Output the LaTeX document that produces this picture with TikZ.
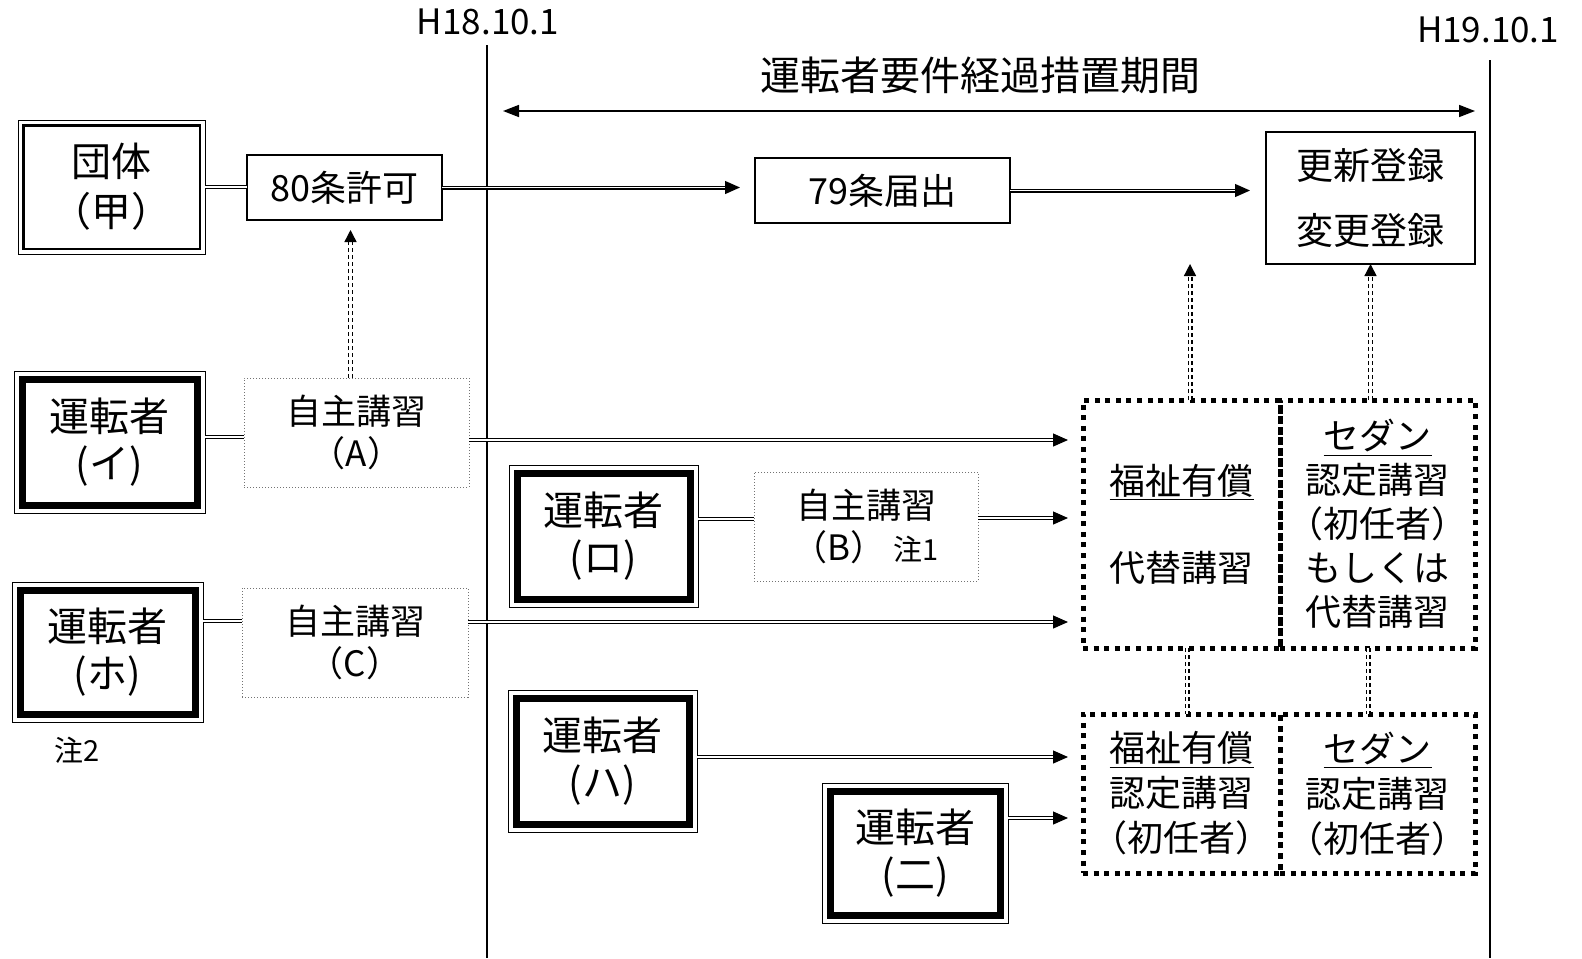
\documentclass[tikz,border=0pt]{standalone}
\usepackage{fontspec}
\setmainfont{Noto Sans CJK JP}
\usetikzlibrary{arrows.meta,calc}
\begin{document}
\begin{tikzpicture}[x=0.5pt,y=-0.5pt,
 base/.style={inner sep=0pt, outer sep=0pt, align=center, font=\fontsize{18}{22}\selectfont},
 plain/.style={base, draw, line width=0.6pt},
 self/.style={base, draw=black!55, densely dotted, line width=0.5pt, font=\fontsize{17.5}{21}\selectfont},
 drv/.style={base, draw, line width=0.5pt, font=\fontsize{20}{23.5}\selectfont,
   path picture={\draw[line width=3.5pt] ([shift={(4pt,-4pt)}]path picture bounding box.north west) rectangle ([shift={(-4pt,4pt)}]path picture bounding box.south east);}},
 org/.style={base, draw, line width=0.5pt, font=\fontsize{20}{25}\selectfont,
   path picture={\draw[line width=1.3pt] ([shift={(2.6pt,-2.6pt)}]path picture bounding box.north west) rectangle ([shift={(-2.6pt,2.6pt)}]path picture bounding box.south east);}},
 dbox/.style={base, draw, line width=2.5pt, dash pattern=on 2.5pt off 2.8pt},
 dl/.style={double, double distance=0.8pt, line width=0.6pt},
 arr/.style={dl, -{Triangle[length=7.5pt,width=6.5pt]}},
 ddot/.style={double, double distance=1.1pt, line width=0.7pt, dash pattern=on 2pt off 1.5pt},
 darr/.style={ddot, -{Triangle[length=6pt,width=6pt]}},
]
\useasboundingbox (0,0) rectangle (1582,958);

% time lines
\coordinate (v18t) at (487,45); \coordinate (v18b) at (487,958);
\coordinate (v19t) at (1490,60); \coordinate (v19b) at (1490,958);
\draw[line width=0.7pt] (v18t) -- (v18b);
\draw[line width=0.7pt] (v19t) -- (v19b);
\node[base, font=\fontsize{17.5}{21}\selectfont] (h18) at (488,22) {H18.10.1};
\node[base, font=\fontsize{17.5}{21}\selectfont, anchor=west] (h19) at (1417,30) {H19.10.1};
\node[base, font=\fontsize{20}{24}\selectfont] (title) at (980,75) {運転者要件経過措置期間};
\coordinate (pa) at (487,111); \coordinate (pb) at (1490,111);
\draw[line width=0.8pt, {Triangle[length=8pt,width=6pt]}-{Triangle[length=8pt,width=6pt]}, shorten <=8pt, shorten >=7.5pt] (pa) -- (pb);

% boxes
\node[org, minimum width=93.5pt, minimum height=67pt] (dan) at (111.5,187) {団体\\（甲）};
\node[plain, minimum width=97.5pt, minimum height=32.5pt] (j80) at (344.5,187.5) {80条許可};
\node[plain, minimum width=127.5pt, minimum height=32.5pt] (j79) at (882.5,190.5) {79条届出};
\node[plain, minimum width=104.5pt, minimum height=66pt, font=\fontsize{18.5}{32.5}\selectfont] (ko) at (1370.5,198) {更新登録\\変更登録};

\node[drv, minimum width=95.5pt, minimum height=71pt] (i) at (109.5,442) {運転者\\(イ)};
\node[drv, minimum width=95.5pt, minimum height=70pt] (ho) at (107.5,652) {運転者\\(ホ)};
\node[drv, minimum width=94.5pt, minimum height=71pt] (ro) at (603.5,536) {運転者\\(ロ)};
\node[drv, minimum width=94.5pt, minimum height=71pt] (ha) at (602.5,761) {運転者\\(ハ)};
\node[drv, minimum width=93pt, minimum height=70pt] (ni) at (915,853) {運転者\\(二)};
\node[base, font=\fontsize{14.5}{17}\selectfont] (n2) at (77,750) {注2};

\node[self, minimum width=112.5pt, minimum height=54.5pt] (A) at (356.5,432.5) {自主講習\\（A）};
\node[self, minimum width=113pt, minimum height=54.5pt] (C) at (355,642.5) {自主講習\\（C）};
\node[self, minimum width=112pt, minimum height=54.5pt] (B) at (866,526.5) {自主講習\\（B）\hspace{4pt}{\fontsize{14.5}{17}\selectfont 注1}};

\node[dbox, minimum width=98.5pt, minimum height=124pt] (fw1) at (1181.5,524) {\underline{福祉有償}\\[21.5pt]代替講習};
\node[dbox, minimum width=97.5pt, minimum height=124pt] (sd1) at (1377.5,524) {\underline{セダン}\\認定講習\\（初任者）\\もしくは\\代替講習};
\node[dbox, minimum width=98.5pt, minimum height=79.5pt, font=\fontsize{18}{22.5}\selectfont] (fw2) at (1181.5,793.5) {\underline{福祉有償}\\認定講習\\（初任者）};
\node[dbox, minimum width=97.5pt, minimum height=79.5pt, font=\fontsize{18}{22.5}\selectfont] (sd2) at (1377.5,793.5) {\underline{セダン}\\認定講習\\（初任者）};

% connectors
\draw[dl] (dan.east) -- (dan.east -| j80.west);
\draw[arr, shorten >=7.5pt] (j80.east) -- (j80.east -| j79.west);
\draw[arr, shorten >=8pt] (j79.east) -- (j79.east -| ko.west);
\draw[dl] ([yshift=2.5pt]i.east) -- ([yshift=2.5pt]i.east -| A.west);
\draw[arr, shorten >=7.5pt] ([yshift=-3.75pt]A.east) -- ([yshift=-3.75pt]A.east -| fw1.west);
\draw[dl] ([yshift=8.5pt]ro.east) -- ([yshift=8.5pt]ro.east -| B.west);
\draw[arr, shorten >=7.5pt] ([yshift=4.25pt]B.east) -- ([yshift=4.25pt]B.east -| fw1.west);
\draw[dl] ([yshift=15.5pt]ho.east) -- ([yshift=15.5pt]ho.east -| C.west);
\draw[arr, shorten >=7.5pt] ([yshift=10.25pt]C.east) -- ([yshift=10.25pt]C.east -| fw1.west);
\draw[arr, shorten >=7.5pt] ([yshift=2pt]ha.east) -- ([yshift=2pt]ha.east -| fw2.west);
\draw[arr, shorten >=7.5pt] ([yshift=17.5pt]ni.east) -- ([yshift=17.5pt]ni.east -| fw2.west);

\draw[darr, shorten >=5pt] ([xshift=-3pt]A.north) -- ([xshift=-3pt]A.north |- j80.south);
\draw[darr] ([xshift=4.25pt]fw1.north) -- ([xshift=4.25pt]fw1.north |- ko.south);
\draw[darr] (ko.south |- sd1.north) -- (ko.south);
\draw[ddot] ([xshift=2.75pt]fw1.south) -- ([xshift=2.75pt]fw2.north);
\draw[ddot] ([xshift=-4.75pt]sd1.south) -- ([xshift=-4.75pt]sd2.north);
\end{tikzpicture}
\end{document}
